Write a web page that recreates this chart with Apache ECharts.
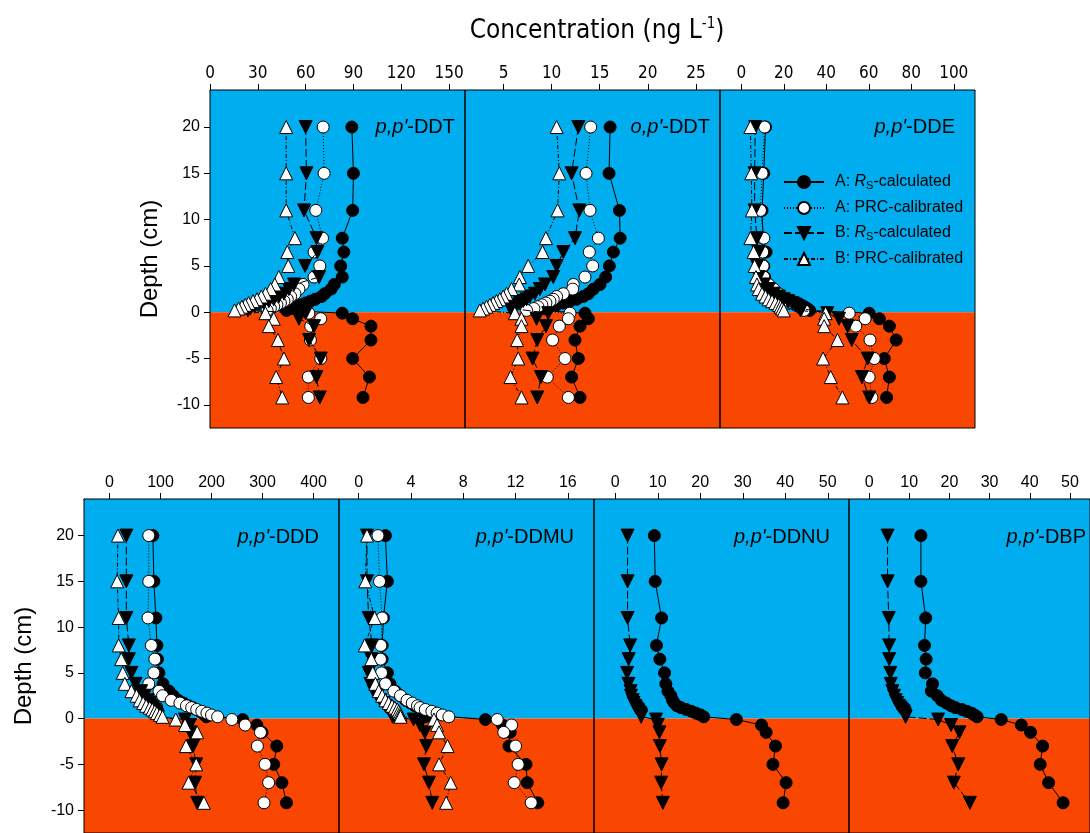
<!DOCTYPE html>
<html>
<head>
<meta charset="utf-8">
<script src="https://cdn.jsdelivr.net/npm/echarts@6/dist/echarts.min.js"></script>
<style>
html,body{margin:0;padding:0;background:#fff;}
#chart{width:1090px;height:833px;}
</style>
</head>
<body>
<div id="chart"></div>
<script>
// Depths (cm): water column (positive) and sediment (negative)
const DEPTH = [20, 15, 11, 8, 6.5, 5, 3.8, 3, 2.5, 2, 1.7, 1.4, 1.2, 1.0, 0.8, 0.6, 0.4, 0.2, -0.1, -0.7, -1.5, -3, -5, -7, -9.2];

// p,p'-DDT
const DDT_A_RS  = [89, 90, 89.5, 83, 84, 82, 83, 78, 76, 72, 70, 66, 63, 60, 57, 54, 51, 48, 83, 89.5, 101, 101, 89.5, 100, 96];
const DDT_A_PRC = [71, 71.6, 66.4, 70.6, 65.3, 68.9, 65.3, 58.4, 55.8, 53.3, 50.6, 48.5, 46.4, 44.2, 42, 40, 37.9, 35.8, 62, 69.5, 63.2, 63, 69.5, 61.7, 61.7];
const DDT_B_RS  = [60, 60.5, 59, 66.8, 67.4, 59.6, 68.5, 52.7, 49.5, 46.4, 43.2, 40, 36.9, 33.7, 30.6, 28, 25.3, 23.8, 60, 55.8, 65.3, 62.2, 69.5, 66.8, 68.9];
const DDT_B_PRC = [47.8, 47.8, 47.8, 53.3, 48.5, 49.1, 43.2, 40.7, 38, 34.8, 32.2, 29.5, 27, 24.2, 22.1, 20, 17.9, 15.4, 34.8, 40, 36.9, 42.6, 46.4, 41.5, 45.3];

// o,p'-DDT
const OPDDT_A_RS  = [16.08, 15.97, 17.05, 17.12, 16.42, 16.0, 15.62, 15.03, 14.34, 13.82, 13.3, 12.6, 11.91, 11.21, 10.52, 9.83, 9.13, 8.61, 13.47, 13.82, 12.95, 12.43, 12.78, 12.08, 12.95];
const OPDDT_A_PRC = [14.06, 13.58, 13.99, 14.86, 13.92, 14.27, 13.47, 12.26, 12.19, 11.21, 10.52, 10.17, 9.83, 9.41, 8.99, 8.58, 8.16, 7.4, 11.91, 11.74, 10.8, 10.1, 11.39, 9.55, 11.74];
const OPDDT_B_RS  = [12.78, 12.08, 12.88, 12.43, 11.21, 10.52, 10.17, 9.31, 8.78, 8.26, 7.74, 7.4, 7.05, 6.7, 6.35, 6.18, 5.94, 5.83, 9.65, 8.44, 9.41, 8.51, 8.02, 8.89, 8.51];
const OPDDT_B_PRC = [10.52, 10.8, 10.62, 9.41, 9.06, 7.57, 6.7, 6.63, 5.83, 5.31, 4.97, 4.62, 4.27, 3.92, 3.58, 3.23, 2.88, 2.53, 6.18, 6.87, 6.87, 6.42, 6.53, 5.73, 6.87];

// p,p'-DDE
const DDE_A_RS  = [11.4, 10.6, 9.8, 10.3, 11.7, 10.6, 11.0, 12.1, 14.2, 16.9, 19.2, 21.6, 24.0, 26.3, 27.9, 29.5, 31.1, 32.2, 60.2, 65.0, 69.7, 72.9, 67.3, 69.7, 68.4];
const DDE_A_PRC = [11.0, 9.8, 9.0, 10.6, 10.1, 10.3, 10.6, 12.9, 15.3, 17.7, 19.2, 20.8, 22.4, 24.0, 25.5, 27.1, 28.4, 29.5, 50.8, 58.3, 53.9, 60.6, 62.6, 60.2, 61.5];
const DDE_B_RS  = [6.6, 6.3, 6.3, 7.4, 8.2, 7.4, 8.2, 10.6, 12.9, 15.3, 17.7, 20, 22, 24, 25.5, 27.1, 28.4, 27.9, 40.5, 46, 50, 52, 59.5, 56.8, 60.2];
const DDE_B_PRC = [4.3, 4.7, 5, 4.3, 5.8, 6.3, 6.9, 7.4, 8.2, 9.8, 11.4, 12.9, 14.5, 16.1, 17.7, 18.5, 19.2, 20, 39.7, 39, 39, 45.3, 38.5, 42.1, 47.6];

// p,p'-DDD
const DDD_A_RS  = [85, 87, 91, 93, 94, 97, 105, 117, 125, 135, 145, 155, 163, 170, 177, 183, 187, 190, 261, 289, 299, 328, 322, 338, 347];
const DDD_A_PRC = [77, 77, 75.5, 82, 89, 87, 77, 97, 104, 121, 138, 151, 161, 171, 181, 191, 200, 212, 240, 266, 296, 290, 305, 312, 303];
const DDD_B_RS  = [33, 33, 33, 38, 38, 43, 51, 62, 69, 75, 79, 82, 85, 89, 91, 92, 93, 95, 148, 158, 158, 164, 170, 168, 172];
const DDD_B_PRC = [16.5, 15, 18, 18, 23, 26, 30, 43, 53, 59, 66, 72, 79, 84, 89, 93, 99, 104, 130, 148, 172, 150, 170, 155, 185];

// p,p'-DDMU
const DDMU_A_RS  = [2.05, 2.2, 1.9, 1.8, 1.8, 2.2, 2.4, 2.8, 3.2, 3.6, 3.97, 4.3, 4.6, 4.8, 5.0, 5.1, 5.2, 5.1, 9.7, 11.0, 11.6, 11.5, 12.8, 12.9, 13.7];
const DDMU_A_PRC = [1.48, 1.6, 1.8, 1.7, 1.67, 1.75, 2.05, 2.7, 3.2, 3.7, 4.1, 4.5, 4.7, 5.1, 5.6, 6.0, 6.4, 6.9, 10.6, 11.7, 11.1, 12.0, 12.2, 11.9, 13.2];
const DDMU_B_RS  = [0.64, 0.64, 0.77, 1.03, 0.97, 0.77, 0.9, 1.15, 1.41, 1.67, 1.92, 2.05, 2.2, 2.3, 2.4, 2.5, 2.56, 2.6, 4.2, 4.7, 5.07, 5.17, 5.0, 5.38, 5.63];
const DDMU_B_PRC = [0.64, 0.51, 1.23, 0.46, 0.97, 1.08, 1.28, 1.54, 1.8, 2.05, 2.3, 2.56, 2.77, 2.95, 3.07, 3.15, 3.2, 3.2, 5.76, 6.0, 6.15, 6.8, 6.15, 7.04, 6.7];

// p,p'-DDNU
const DDNU_A_RS = [9.2, 9.4, 10.9, 9.7, 10.5, 11.6, 11.9, 12.4, 13.1, 13.5, 13.9, 14.5, 15.5, 16.7, 17.9, 19, 20.1, 20.8, 28.5, 34.4, 35.5, 37.7, 37.1, 40.2, 39.5];
const DDNU_B_RS = [2.9, 2.9, 2.9, 3.5, 3.15, 2.8, 3.1, 3.6, 3.7, 4.1, 4.3, 4.7, 4.9, 5.3, 5.5, 5.9, 6.1, 6.1, 9.6, 10.0, 10.4, 10.5, 10.9, 10.8, 11.2];

// p,p'-DBP
const DBP_A_RS = [12.9, 12.9, 14.1, 13.8, 14.2, 14.0, 15.8, 15.5, 17.0, 18.0, 19.2, 20.4, 21.5, 23.1, 24.3, 25.5, 26.2, 26.9, 32.9, 37.9, 40.2, 43.2, 42.6, 44.7, 48.3];
const DBP_B_RS = [4.6, 4.6, 4.9, 5.0, 5.0, 5.3, 5.4, 5.8, 6.2, 6.6, 7.0, 7.4, 7.8, 8.2, 8.6, 8.8, 8.95, 9.1, 17.2, 20.4, 22.5, 20.7, 22.2, 21.1, 25.1];

// Axis ranges and tick labels per panel
const PANEL_TITLES = [["p,p'", "-DDT"], ["o,p'", "-DDT"], ["p,p'", "-DDE"], ["p,p'", "-DDD"], ["p,p'", "-DDMU"], ["p,p'", "-DDNU"], ["p,p'", "-DBP"]];
const X_MIN = [0, 1, -10, -50, -1.5, -5, -5];
const X_MAX = [160, 27.5, 110, 450, 18, 55, 55];
const X_TICKS = [
  [0, 30, 60, 90, 120, 150],
  [5, 10, 15, 20, 25],
  [0, 20, 40, 60, 80, 100],
  [0, 100, 200, 300, 400],
  [0, 4, 8, 12, 16],
  [0, 10, 20, 30, 40, 50],
  [0, 10, 20, 30, 40, 50]
];
const Y_MIN = -12.5, Y_MAX = 24;
const Y_TICKS = [-10, -5, 0, 5, 10, 15, 20];
const SERIES_NAMES = ['A: Rs-calculated', 'A: PRC-calibrated', 'B: Rs-calculated', 'B: PRC-calibrated'];

const PANEL_DATA = [
  [DDT_A_RS, DDT_A_PRC, DDT_B_RS, DDT_B_PRC],
  [OPDDT_A_RS, OPDDT_A_PRC, OPDDT_B_RS, OPDDT_B_PRC],
  [DDE_A_RS, DDE_A_PRC, DDE_B_RS, DDE_B_PRC],
  [DDD_A_RS, DDD_A_PRC, DDD_B_RS, DDD_B_PRC],
  [DDMU_A_RS, DDMU_A_PRC, DDMU_B_RS, DDMU_B_PRC],
  [DDNU_A_RS, null, DDNU_B_RS, null],
  [DBP_A_RS, null, DBP_B_RS, null]
];

// ---------- layout / styling ----------
const FONT = "'Liberation Sans', Arial, sans-serif";
const NARROW = "'Liberation Sans Narrow', 'DejaVu Sans Condensed', 'Liberation Sans', Arial, sans-serif";
const BLUE = '#00AEEF';
const RED = '#F94600';
const PW = 255, PH = 338;
const GRIDS = [
  {left: 210, top: 90}, {left: 465, top: 90}, {left: 720, top: 90},
  {left: 84, top: 499}, {left: 339, top: 499}, {left: 594, top: 499}, {left: 849, top: 499}
];

const STYLES = [
  {symbol: 'circle', symbolSize: 12, symbolRotate: 0,
   itemStyle: {color: '#000', borderColor: '#000', borderWidth: 1},
   lineStyle: {color: '#000', width: 1, type: 'solid'}},
  {symbol: 'circle', symbolSize: 12, symbolRotate: 0,
   itemStyle: {color: '#fff', borderColor: '#000', borderWidth: 1},
   lineStyle: {color: '#000', width: 1, type: [1, 2]}},
  {symbol: 'triangle', symbolSize: 13, symbolRotate: 180,
   itemStyle: {color: '#000', borderColor: '#000', borderWidth: 1},
   lineStyle: {color: '#000', width: 1, type: [8, 3]}},
  {symbol: 'triangle', symbolSize: 13, symbolRotate: 0,
   itemStyle: {color: '#fff', borderColor: '#000', borderWidth: 1},
   lineStyle: {color: '#000', width: 1, type: [4, 2, 1, 2]}}
];

const grid = [], xAxis = [], yAxis = [], series = [], graphic = [];

GRIDS.forEach((g, i) => {
  grid.push({left: g.left, top: g.top, width: PW, height: PH, show: true,
             borderColor: '#000', borderWidth: 1, backgroundColor: 'transparent', z: 10, containLabel: false});
  const topRow = i < 3;
  xAxis.push({
    type: 'value', gridIndex: i, position: 'top', min: X_MIN[i], max: X_MAX[i],
    axisLine: {show: true, onZero: false, lineStyle: {color: '#000', width: 1}},
    axisTick: {show: true, inside: false, length: 6, lineStyle: {color: '#000'}, customValues: X_TICKS[i]},
    axisLabel: {show: true, customValues: X_TICKS[i], color: '#000', margin: 8,
                fontSize: topRow ? 17 : 16, fontFamily: topRow ? NARROW : FONT},
    splitLine: {show: false}
  });
  const first = (i === 0 || i === 3);
  yAxis.push({
    type: 'value', gridIndex: i, min: Y_MIN, max: Y_MAX,
    name: first ? 'Depth (cm)' : '', nameLocation: 'middle', nameRotate: 90, nameGap: 48,
    nameTextStyle: {fontSize: 24, color: '#000', fontFamily: FONT},
    axisLine: {show: first, onZero: false, lineStyle: {color: '#000'}},
    axisTick: {show: first, inside: false, length: 6, lineStyle: {color: '#000'}, customValues: Y_TICKS},
    axisLabel: {show: first, customValues: Y_TICKS, color: '#000', margin: 10, fontSize: 16, fontFamily: FONT},
    splitLine: {show: false}
  });
  // background: water (blue) above 0, sediment (red) below 0
  series.push({
    type: 'line', xAxisIndex: i, yAxisIndex: i, data: [], z: 1, silent: true,
    markArea: {silent: true, data: [
      [{yAxis: Y_MAX, itemStyle: {color: BLUE, opacity: 1}}, {yAxis: 0}],
      [{yAxis: 0, itemStyle: {color: RED, opacity: 1}}, {yAxis: Y_MIN}]
    ]}
  });
  PANEL_DATA[i].forEach((vals, k) => {
    if (!vals) return;
    const st = STYLES[k];
    series.push({
      name: SERIES_NAMES[k], type: 'line', xAxisIndex: i, yAxisIndex: i, z: 3 + k,
      data: vals.map((v, j) => [v, DEPTH[j]]),
      symbol: st.symbol, symbolSize: st.symbolSize, symbolRotate: st.symbolRotate,
      showAllSymbol: true, itemStyle: st.itemStyle, lineStyle: st.lineStyle,
      emphasis: {disabled: true}, animation: false
    });
  });
  // panel label
  const rightEdge = [455, 710, 955, 319, 574, 830, 1086][i];
  const cy = topRow ? 127 : 537;
  graphic.push({
    type: 'text', x: rightEdge, y: cy, z: 20,
    style: {
      text: '{i|' + PANEL_TITLES[i][0] + '}{n|' + PANEL_TITLES[i][1] + '}',
      align: 'right', verticalAlign: 'middle', textAlign: 'right', textVerticalAlign: 'middle',
      rich: {
        i: {fontSize: 20, fontStyle: 'italic', fontFamily: FONT, fill: '#000', color: '#000'},
        n: {fontSize: 20, fontFamily: FONT, fill: '#000', color: '#000'}
      }
    }
  });
});

// overall title
graphic.push({
  type: 'text', x: 597, y: 31, z: 20,
  style: {
    text: '{a|Concentration (ng L}{b|-1}{a|)}',
    align: 'center', verticalAlign: 'middle', textAlign: 'center', textVerticalAlign: 'middle',
    rich: {
      a: {fontSize: 26, fontFamily: NARROW, fill: '#000', color: '#000'},
      b: {fontSize: 15, fontFamily: NARROW, fill: '#000', color: '#000', padding: [0, 0, 13, 0]}
    }
  }
});

const option = {
  animation: false,
  backgroundColor: '#fff',
  grid, xAxis, yAxis, series, graphic,
  legend: {
    data: SERIES_NAMES, orient: 'vertical', left: 783, top: 174,
    itemWidth: 40, itemHeight: 15, itemGap: 9, padding: 0,
    selectedMode: false,
    formatter: function (name) {
      const parts = name.split(': ');
      const group = parts[0];
      if (parts[1] === 'Rs-calculated') {
        return '{p|' + group + ': }{i|R}{s|S}{n|-calculated}';
      }
      return '{p|' + group + ': }{n|PRC-calibrated}';
    },
    textStyle: {
      color: '#000', fontSize: 16, fontFamily: FONT,
      rich: {
        p: {fontSize: 16, fontFamily: FONT, color: '#000', padding: [0, 0, 0, 6]},
        n: {fontSize: 16, fontFamily: FONT, color: '#000'},
        i: {fontSize: 16, fontFamily: FONT, fontStyle: 'italic', color: '#000'},
        s: {fontSize: 11, fontFamily: FONT, color: '#000', padding: [7, 0, 0, 0]}
      }
    }
  }
};

const chart = echarts.init(document.getElementById('chart'), null, {renderer: 'canvas'});
chart.setOption(option);
</script>
</body>
</html>
